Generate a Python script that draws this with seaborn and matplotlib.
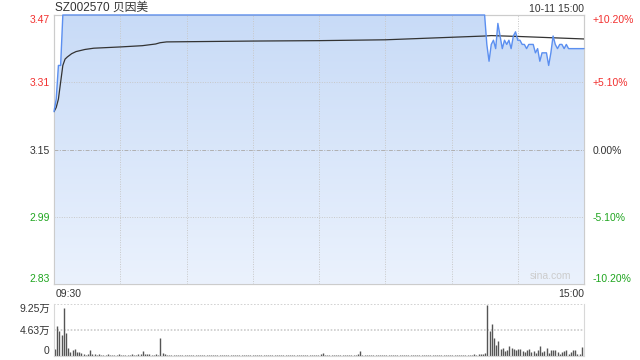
import numpy as np
import seaborn as sns
import matplotlib
matplotlib.use("Agg")
import matplotlib.pyplot as plt

# ---- data (minute index 0 = 09:30, 240 = 15:00) ----
price_minutes = [0, 1, 2, 3, 4, 195,
                 196, 197, 198, 199, 200, 201, 202, 203, 204, 205, 206, 207, 208, 209,
                 210, 211, 212, 213, 214, 215, 216, 217, 218, 219, 220, 221, 222, 223,
                 224, 225, 226, 227, 228, 229, 230, 231, 232, 233, 234, 235, 236, 240]
price_values = [3.24, 3.27, 3.35, 3.35, 3.47, 3.47,
                3.40, 3.36, 3.40, 3.41, 3.39, 3.45, 3.42, 3.39, 3.41, 3.40, 3.41, 3.39,
                3.42, 3.43, 3.41, 3.41, 3.40, 3.40, 3.39, 3.40, 3.40, 3.40, 3.38, 3.39,
                3.36, 3.38, 3.38, 3.38, 3.35, 3.38, 3.42, 3.40, 3.39, 3.40, 3.40, 3.39,
                3.40, 3.39, 3.39, 3.39, 3.39, 3.39]

avg_minutes = [0, 1, 2, 3, 4, 5, 6, 8, 10, 14, 18, 30, 40, 46, 48, 51, 90, 120,
               150, 195, 198, 210, 225, 240]
avg_values = [3.24, 3.25, 3.27, 3.31, 3.35, 3.365, 3.37, 3.378, 3.383, 3.388,
              3.391, 3.394, 3.397, 3.401, 3.404, 3.406, 3.408, 3.409, 3.411,
              3.420, 3.421, 3.419, 3.416, 3.413]

# volume in 万 shares, one bar per minute
vol_open = [1.3, 5.3, 4.4, 3.7, 8.6, 4.1, 1.4, 0.8, 1.0, 1.3, 0.7, 0.8, 0.5, 0.4,
            0.2, 0.3, 1.1]
vol_am1 = [0.4, 0.3, 0.2, 0.3, 0.2, 0.1, 0.2, 0.3, 0.2, 0.2, 0.1, 0.2, 0.3, 0.2,
           0.2, 0.1, 0.2, 0.2, 0.3, 0.2, 0.2, 0.3, 0.4]
vol_m40 = [0.9]
vol_am2 = [0.4, 0.3, 0.3, 0.2, 0.2, 0.3, 0.2]
vol_m48 = [3.2]
vol_mid = [0.5, 0.3, 0.2, 0.2, 0.1, 0.2, 0.2, 0.1, 0.1, 0.2, 0.2, 0.1, 0.2, 0.1,
           0.1, 0.2, 0.1, 0.1, 0.2, 0.1, 0.1, 0.2, 0.2, 0.1, 0.1, 0.1, 0.2, 0.1,
           0.2, 0.1, 0.1, 0.2, 0.1, 0.1, 0.1, 0.2, 0.1, 0.2, 0.1, 0.1, 0.1, 0.2,
           0.1, 0.1, 0.2, 0.1, 0.1, 0.2, 0.1, 0.1, 0.1, 0.2, 0.1, 0.2, 0.1, 0.1,
           0.1, 0.2, 0.1, 0.1, 0.2, 0.1, 0.1, 0.1, 0.2, 0.1, 0.2, 0.2, 0.1, 0.1,
           0.2, 0.1, 0.3]
vol_m122 = [0.5]
vol_pm1 = [0.2, 0.1, 0.2, 0.1, 0.1, 0.2, 0.1, 0.1, 0.2, 0.1, 0.2, 0.1, 0.1, 0.2,
           0.2, 0.3]
vol_m139 = [0.9]
vol_pm2 = [0.2, 0.1, 0.2, 0.1, 0.1, 0.2, 0.1, 0.1, 0.1, 0.2, 0.1, 0.1, 0.2, 0.1,
           0.1, 0.2, 0.1, 0.1, 0.1, 0.2, 0.1, 0.2, 0.1, 0.1, 0.1, 0.2, 0.1, 0.1,
           0.2, 0.1, 0.1, 0.1, 0.2, 0.2, 0.1, 0.1, 0.2, 0.1, 0.1, 0.2, 0.1, 0.1,
           0.2, 0.1, 0.2, 0.1, 0.2, 0.2, 0.1, 0.2, 0.2, 0.3, 0.2, 0.3, 0.3, 0.4,
           0.5]
vol_close = [9.1, 4.4, 5.7, 3.2, 2.0, 2.6, 1.2, 1.4, 0.9, 1.0, 1.8, 1.4, 1.2, 1.1,
             1.2, 1.3, 0.9, 0.8, 1.0, 1.3, 0.8, 0.9, 0.6, 1.1, 1.8, 0.8, 0.9, 1.5,
             0.5, 1.1, 1.1, 1.1, 0.8, 0.4, 0.8, 0.9, 1.0, 0.4, 0.8, 1.1, 1.0, 0.3,
             0.4, 1.6]
volume = (vol_open + vol_am1 + vol_m40 + vol_am2 + vol_m48 + vol_mid + vol_m122
          + vol_pm1 + vol_m139 + vol_pm2 + vol_close)
vol_minutes = list(range(len(volume)))

price_ticks = [2.83, 2.99, 3.15, 3.31, 3.47]
pct_labels = ["-10.20%", "-5.10%", "0.00%", "+5.10%", "+10.20%"]
vol_ticks = [0, 4.63, 9.25]
vol_labels = ["0", "4.63万", "9.25万"]

RED = "#f2302f"
GREEN = "#1fa51f"
DARK = "#333333"
tick_colors = [GREEN, GREEN, DARK, RED, RED]

sns.set_style("white")
plt.rcParams["font.family"] = ["Liberation Sans", "Noto Sans CJK SC", "DejaVu Sans"]

fig = plt.figure(figsize=(6.4, 3.6), dpi=100)
ax = fig.add_axes([54 / 640, 1 - 284 / 360, 530 / 640, 269 / 360])
axv = fig.add_axes([54 / 640, 1 - 356 / 360, 530 / 640, 52 / 360])

# gradient area under the price line
poly = ax.fill_between(price_minutes, price_values, price_ticks[0],
                       facecolor="none", edgecolor="none")
grad = np.linspace(0, 1, 256).reshape(-1, 1)
cmap = matplotlib.colors.LinearSegmentedColormap.from_list(
    "area", ["#c8dbf7", "#ebf2fd"])
im = ax.imshow(grad, cmap=cmap, aspect="auto", origin="upper",
               extent=[0, 240, price_ticks[0], price_ticks[-1]], zorder=0)
im.set_clip_path(poly.get_paths()[0], transform=ax.transData)

sns.lineplot(x=price_minutes, y=price_values, ax=ax, color="#5b8ff0",
             linewidth=1.0, zorder=5, clip_on=False)
sns.lineplot(x=avg_minutes, y=avg_values, ax=ax, color="#333333",
             linewidth=0.9, zorder=4)

ax.set_xlim(0, 240)
ax.set_ylim(price_ticks[0], price_ticks[-1])
for m in range(30, 240, 30):
    ax.axvline(m, color="#c8c8c8", linestyle=(0, (1, 1.5)), linewidth=0.7, zorder=1)
for p in [2.99, 3.31]:
    ax.axhline(p, color="#c8c8c8", linestyle=(0, (1, 1.5)), linewidth=0.7, zorder=1)
ax.axhline(3.15, color="#b0b0b0", linestyle=(0, (4, 1.5, 1, 1.5)), linewidth=0.7,
           zorder=1)

ax.set_xticks([])
ax.set_yticks(price_ticks)
ax.set_yticklabels([f"{p:.2f}" for p in price_ticks], fontsize=7.5)
ax.tick_params(axis="y", length=0, pad=3)
for lbl, c in zip(ax.get_yticklabels(), tick_colors):
    lbl.set_color(c)
ax.get_yticklabels()[0].set_va("bottom")
ax.get_yticklabels()[-1].set_va("top")

axr = ax.twinx()
axr.set_ylim(price_ticks[0], price_ticks[-1])
axr.set_yticks(price_ticks)
axr.set_yticklabels(pct_labels, fontsize=7.5)
axr.tick_params(axis="y", length=0, pad=6)
for lbl, c in zip(axr.get_yticklabels(), tick_colors):
    lbl.set_color(c)
axr.get_yticklabels()[0].set_va("bottom")
axr.get_yticklabels()[-1].set_va("top")

for a in (ax, axr):
    for s in a.spines.values():
        s.set_color("#cccccc")
        s.set_linewidth(0.8)
ax.set_zorder(axr.get_zorder() + 1)
ax.patch.set_visible(False)

ax.text(0.002, 1.004, "SZ002570 贝因美", transform=ax.transAxes, fontsize=8.5,
        color="#333333", ha="left", va="bottom")
ax.text(1.0, 1.004, "10-11 15:00", transform=ax.transAxes, fontsize=7.5,
        color="#333333", ha="right", va="bottom")
ax.text(0.003, -0.02, "09:30", transform=ax.transAxes, fontsize=7.5,
        color="#333333", ha="left", va="top")
ax.text(1.0, -0.02, "15:00", transform=ax.transAxes, fontsize=7.5,
        color="#333333", ha="right", va="top")
ax.text(0.975, 0.012, "sina.com", transform=ax.transAxes, fontsize=7.5,
        color="#cccccc", ha="right", va="bottom")

# volume panel
axv.vlines(vol_minutes, 0, volume, color="#555555", linewidth=1.0)
axv.set_xlim(-0.5, 241)
axv.set_ylim(0, vol_ticks[-1])
for v in vol_ticks[1:]:
    axv.axhline(v, color="#cccccc", linestyle=(0, (1, 1)), linewidth=1.2, zorder=0)
axv.set_xticks([])
axv.set_yticks(vol_ticks)
axv.set_yticklabels(vol_labels, fontsize=7.5, color="#333333")
axv.tick_params(axis="y", length=0, pad=3)
axv.get_yticklabels()[0].set_va("bottom")
axv.get_yticklabels()[-1].set_va("top")
for name, s in axv.spines.items():
    s.set_color("#d8d8d8")
    s.set_linewidth(0.8)
axv.spines["top"].set_visible(False)

fig.savefig("out.png", dpi=100)
